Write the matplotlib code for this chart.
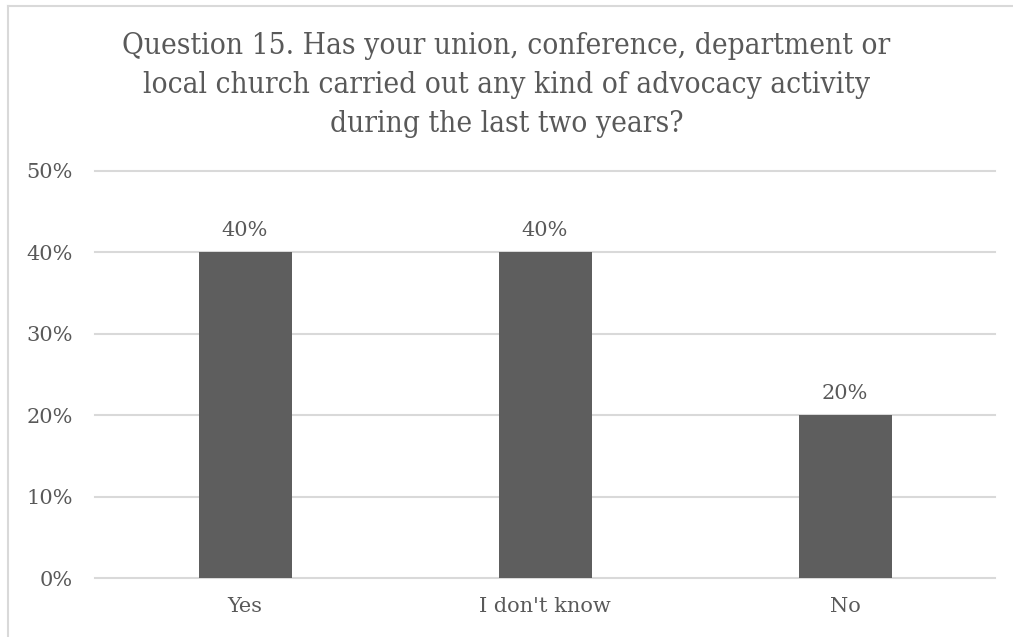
import matplotlib
matplotlib.use('Agg')
import matplotlib.pyplot as plt
from matplotlib.lines import Line2D

categories = ['Yes', "I don't know", 'No']
values = [40, 40, 20]
yticks = [0, 10, 20, 30, 40, 50]
title = ('Question 15. Has your union, conference, department or\n'
         'local church carried out any kind of advocacy activity\n'
         'during the last two years?')

text_col = '#595959'
bar_col = '#5e5e5e'
grid_col = '#d9d9d9'

W, H = 1013, 637
fig = plt.figure(figsize=(W / 100, H / 100), dpi=100)
ax = fig.add_axes([95 / W, 1 - 578 / H, 900 / W, (578 - 171) / H])

x = list(range(len(categories)))
ax.bar(x, values, width=0.31, color=bar_col, zorder=3)
for xi, v in zip(x, values):
    ax.annotate(f'{v}%', (xi, v), xytext=(0, 9), textcoords='offset points',
                ha='center', va='bottom', fontsize=15, color=text_col,
                family='DejaVu Serif')

ax.set_xlim(-0.5, 2.5)
ax.set_ylim(0, 50)
ax.set_yticks(yticks)
ax.set_yticklabels([f'{t}%' for t in yticks])
ax.set_xticks(x)
ax.set_xticklabels(categories)
ax.yaxis.grid(True, color=grid_col, linewidth=1.5, zorder=0)
for gl in ax.get_ygridlines():
    gl.set_clip_on(False)
ax.tick_params(length=0, labelsize=15, labelcolor=text_col)
ax.tick_params(axis='y', pad=16)
ax.tick_params(axis='x', pad=14)
for lab in ax.get_xticklabels() + ax.get_yticklabels():
    lab.set_family('DejaVu Serif')
for s in ax.spines.values():
    s.set_visible(False)

fig.text(0.5, 1 - 85 / H, title, ha='center', va='center', fontsize=21.3,
         color=text_col, family='DejaVu Serif', stretch='condensed',
         linespacing=1.5)

# chart frame (only top and left edges show)
fig.add_artist(Line2D([7.5 / W, 1], [1 - 5.5 / H, 1 - 5.5 / H],
                      transform=fig.transFigure, color=grid_col, lw=1.5))
fig.add_artist(Line2D([7.5 / W, 7.5 / W], [0, 1 - 5.5 / H],
                      transform=fig.transFigure, color=grid_col, lw=1.5))

fig.savefig('out.png', dpi=100)
